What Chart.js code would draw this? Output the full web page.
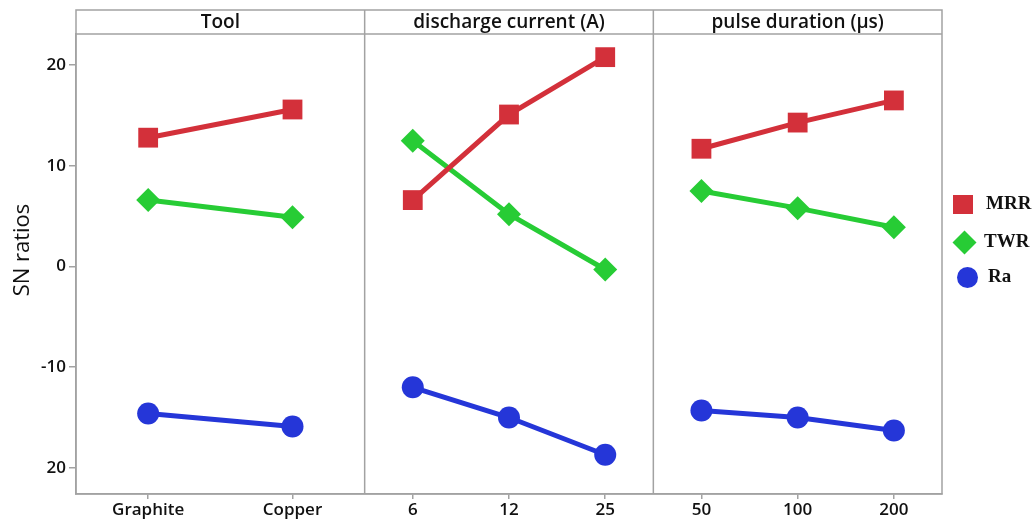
<!DOCTYPE html>
<html>
<head>
<meta charset="utf-8">
<script src="https://cdn.jsdelivr.net/npm/chart.js@4.4.1/dist/chart.umd.min.js"></script>
<style>
  body { margin: 0; background: #fff; }
  #wrap { position: relative; width: 1033px; height: 522px; }
  #legend { position: absolute; left: 945px; top: 185px; font: bold 19px "Liberation Serif", serif; color: #111; }
  .item { position: absolute; white-space: nowrap; }
  .mark { position: absolute; }
</style>
</head>
<body>
<div id="wrap">
  <canvas id="chart" width="1033" height="522"></canvas>
  <div id="legend"></div>
</div>
<script>
// Panel titles and factor levels
const panelTitles = ['Tool', 'discharge current (A)', 'pulse duration (μs)'];
const toolLevels = ['Graphite', 'Copper'];
const currentLevels = ['6', '12', '25'];
const pulseLevels = ['50', '100', '200'];

// SN ratios, per panel
const mrrTool = [12.8, 15.6];
const mrrCurrent = [6.6, 15.1, 20.8];
const mrrPulse = [11.7, 14.3, 16.5];

const twrTool = [6.6, 4.9];
const twrCurrent = [12.5, 5.2, -0.3];
const twrPulse = [7.5, 5.8, 3.9];

const raTool = [-14.6, -15.9];
const raCurrent = [-12.0, -15.0, -18.7];
const raPulse = [-14.3, -15.0, -16.3];

// y tick values and the labels as printed
const yTickValues = [20, 10, 0, -10, -20];
const yTickLabels = ['20', '10', '0', '-10', '20'];

const seriesNames = ['MRR', 'TWR', 'Ra'];
const seriesColors = ['#d3303a', '#27cc35', '#2536d8'];
const seriesStyles = ['rect', 'rectRot', 'circle'];
const seriesRadius = [14, 12, 11];

const panelLevels = [toolLevels, currentLevels, pulseLevels];
const PANEL = 3; // each panel spans 3 x units

// x position of every level, panel by panel
const xPositions = [];
const xLabels = [];
panelLevels.forEach((levels, p) => {
    levels.forEach((lab, j) => {
        xPositions.push(p * PANEL + (j + 0.5) * PANEL / levels.length);
        xLabels.push(lab);
    });
});

function buildPoints(parts) {
    const pts = [];
    parts.forEach((vals, p) => {
        vals.forEach((v, j) => {
            pts.push({ x: p * PANEL + (j + 0.5) * PANEL / vals.length, y: v });
        });
        if (p < parts.length - 1) pts.push({ x: (p + 1) * PANEL, y: null });
    });
    return pts;
}

const seriesData = [
    buildPoints([mrrTool, mrrCurrent, mrrPulse]),
    buildPoints([twrTool, twrCurrent, twrPulse]),
    buildPoints([raTool, raCurrent, raPulse])
];

const frameColor = '#a2a2a2';

// header band, panel dividers and y title
const panelFrame = {
    id: 'panelFrame',
    beforeDatasetsDraw(chart) {
        const { ctx, chartArea, scales } = chart;
        const top = 10;
        ctx.save();
        ctx.strokeStyle = frameColor;
        ctx.lineWidth = 1.5;
        ctx.strokeRect(chartArea.left, top, chartArea.right - chartArea.left, chartArea.bottom - top);
        ctx.beginPath();
        ctx.moveTo(chartArea.left, chartArea.top);
        ctx.lineTo(chartArea.right, chartArea.top);
        for (let p = 1; p < panelTitles.length; p++) {
            const x = scales.x.getPixelForValue(p * PANEL);
            ctx.moveTo(x, top);
            ctx.lineTo(x, chartArea.bottom);
        }
        ctx.stroke();

        ctx.fillStyle = '#111';
        ctx.font = '600 19px "Open Sans"';
        ctx.textAlign = 'center';
        ctx.textBaseline = 'middle';
        panelTitles.forEach((t, p) => {
            const x0 = scales.x.getPixelForValue(p * PANEL);
            const x1 = scales.x.getPixelForValue((p + 1) * PANEL);
            ctx.fillText(t, (x0 + x1) / 2, (top + chartArea.top) / 2 + 1);
        });

        ctx.font = '22px "Open Sans"';
        ctx.translate(23, 250);
        ctx.rotate(-Math.PI / 2);
        ctx.fillText('SN ratios', 0, 0);
        ctx.restore();
    }
};

const ctx = document.getElementById('chart').getContext('2d');
const chart = new Chart(ctx, {
    type: 'line',
    data: {
        datasets: seriesNames.map((name, i) => ({
            label: name,
            data: seriesData[i],
            borderColor: seriesColors[i],
            backgroundColor: seriesColors[i],
            borderWidth: 5,
            pointStyle: seriesStyles[i],
            pointRadius: seriesRadius[i],
            pointHoverRadius: seriesRadius[i],
            pointBorderWidth: 0,
            spanGaps: false,
            tension: 0
        }))
    },
    options: {
        responsive: false,
        animation: false,
        layout: { padding: { left: 0, top: 34, right: 91, bottom: 0 } },
        plugins: {
            legend: { display: false },
            tooltip: { enabled: false }
        },
        scales: {
            x: {
                type: 'linear',
                min: 0,
                max: PANEL * panelTitles.length,
                afterBuildTicks: (scale) => {
                    scale.ticks = xPositions.map(v => ({ value: v }));
                },
                afterFit: (scale) => { scale.height = 28; },
                ticks: {
                    autoSkip: false,
                    maxRotation: 0,
                    padding: 1,
                    color: '#111',
                    font: { family: 'Open Sans', size: 17, weight: '600' },
                    callback: (v, i) => xLabels[i]
                },
                grid: { drawOnChartArea: false, color: frameColor, tickLength: 5, lineWidth: 1.5 },
                border: { display: true, color: frameColor, width: 1.5 }
            },
            y: {
                min: -22.6,
                max: 23.1,
                afterBuildTicks: (scale) => {
                    scale.ticks = yTickValues.map(v => ({ value: v }));
                },
                afterFit: (scale) => { scale.width = 76; },
                ticks: {
                    padding: 3,
                    color: '#111',
                    font: { family: 'Open Sans', size: 17, weight: '600' },
                    callback: (v, i) => yTickLabels[i]
                },
                grid: { drawOnChartArea: false, color: frameColor, tickLength: 7, lineWidth: 1.5 },
                border: { display: true, color: frameColor, width: 1.5 }
            }
        }
    },
    plugins: [panelFrame]
});

// legend on the right
const legend = document.getElementById('legend');
const legendRows = [
    { top: 19, mark: 'left:8px;top:-9px;width:20px;height:19px;' },
    { top: 57, mark: 'left:11px;top:-8px;width:17px;height:17px;transform:rotate(45deg);' },
    { top: 92, mark: 'left:12px;top:-10px;width:21px;height:21px;border-radius:50%;' }
];
const textLeft = [41, 39, 43];
seriesNames.forEach((name, i) => {
    const row = legendRows[i];
    const mark = document.createElement('div');
    mark.className = 'mark';
    mark.style.cssText = row.mark + 'background:' + seriesColors[i] + ';margin-top:' + row.top + 'px;';
    legend.appendChild(mark);
    const txt = document.createElement('div');
    txt.className = 'item';
    txt.textContent = name;
    txt.style.left = textLeft[i] + 'px';
    txt.style.top = (row.top - 12) + 'px';
    legend.appendChild(txt);
});
</script>
</body>
</html>
